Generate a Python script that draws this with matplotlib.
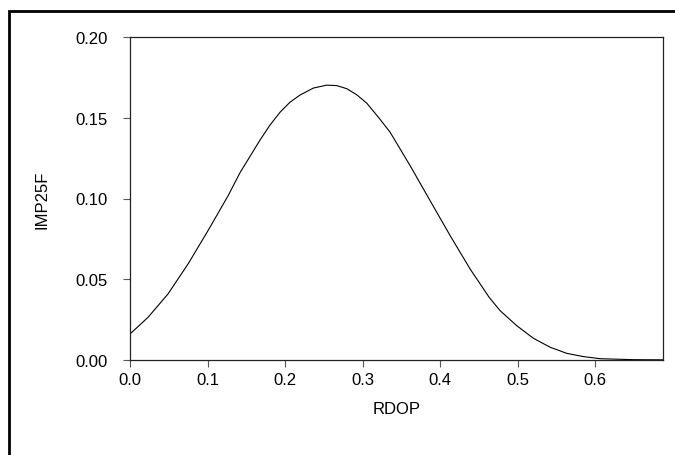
import matplotlib.pyplot as plt
import matplotlib.patches as patches

plt.rcParams['font.family'] = ['Liberation Sans', 'DejaVu Sans']

# density curve of RDOP, read at irregular steps
rdop = [0.0, 0.0232, 0.049, 0.0748, 0.1006, 0.1265, 0.1419, 0.1677, 0.1806,
        0.1935, 0.2065, 0.2194, 0.2366, 0.2538, 0.2667, 0.2796, 0.2925,
        0.3054, 0.3217, 0.3355, 0.3613, 0.3871, 0.4129, 0.4387, 0.4632,
        0.4774, 0.4989, 0.5204, 0.5419, 0.5634, 0.5849, 0.6065, 0.649, 0.687]
imp25f = [0.0161, 0.0264, 0.0409, 0.0594, 0.0801, 0.1017, 0.1160, 0.1362, 0.1455,
          0.1534, 0.1597, 0.1641, 0.1684, 0.1702, 0.1699, 0.1680, 0.1642,
          0.1590, 0.1495, 0.1410, 0.1203, 0.0986, 0.0770, 0.0563, 0.0388,
          0.0305, 0.0212, 0.0134, 0.0079, 0.0041, 0.0021, 0.0008, 0.0002, 0.0001]

xticks = [0.0, 0.1, 0.2, 0.3, 0.4, 0.5, 0.6]
yticks = [0.00, 0.05, 0.10, 0.15, 0.20]

fig = plt.figure(figsize=(6.75, 4.56), dpi=100)
ax = fig.add_axes([130/675, 95/456, (662.7-130)/675, (361-38)/456])

ax.plot(rdop, imp25f, color='black', lw=0.8)

ax.set_xlim(0, 0.687)
ax.set_ylim(0, 0.20)
ax.set_xticks(xticks)
ax.set_xticklabels(['%.1f' % v for v in xticks])
ax.set_yticks(yticks)
ax.set_yticklabels(['%.2f' % v for v in yticks])
ax.tick_params(axis='both', labelsize=12, length=5, width=0.8, color='#555555')
ax.tick_params(axis='y', pad=11)
ax.tick_params(axis='x', pad=4)
for s in ax.spines.values():
    s.set_linewidth(0.9)
    s.set_color('#222222')

ax.set_xlabel('RDOP', fontsize=12, labelpad=10)
ax.set_ylabel('IMP25F', fontsize=12, labelpad=19)

# frame around the whole graphic
fig.patches.append(patches.Rectangle((9/675, -0.1), 1.2, (456-12)/456 + 0.1,
                                     transform=fig.transFigure, fill=False,
                                     edgecolor='black', lw=2))

fig.savefig('out.png', dpi=100)
